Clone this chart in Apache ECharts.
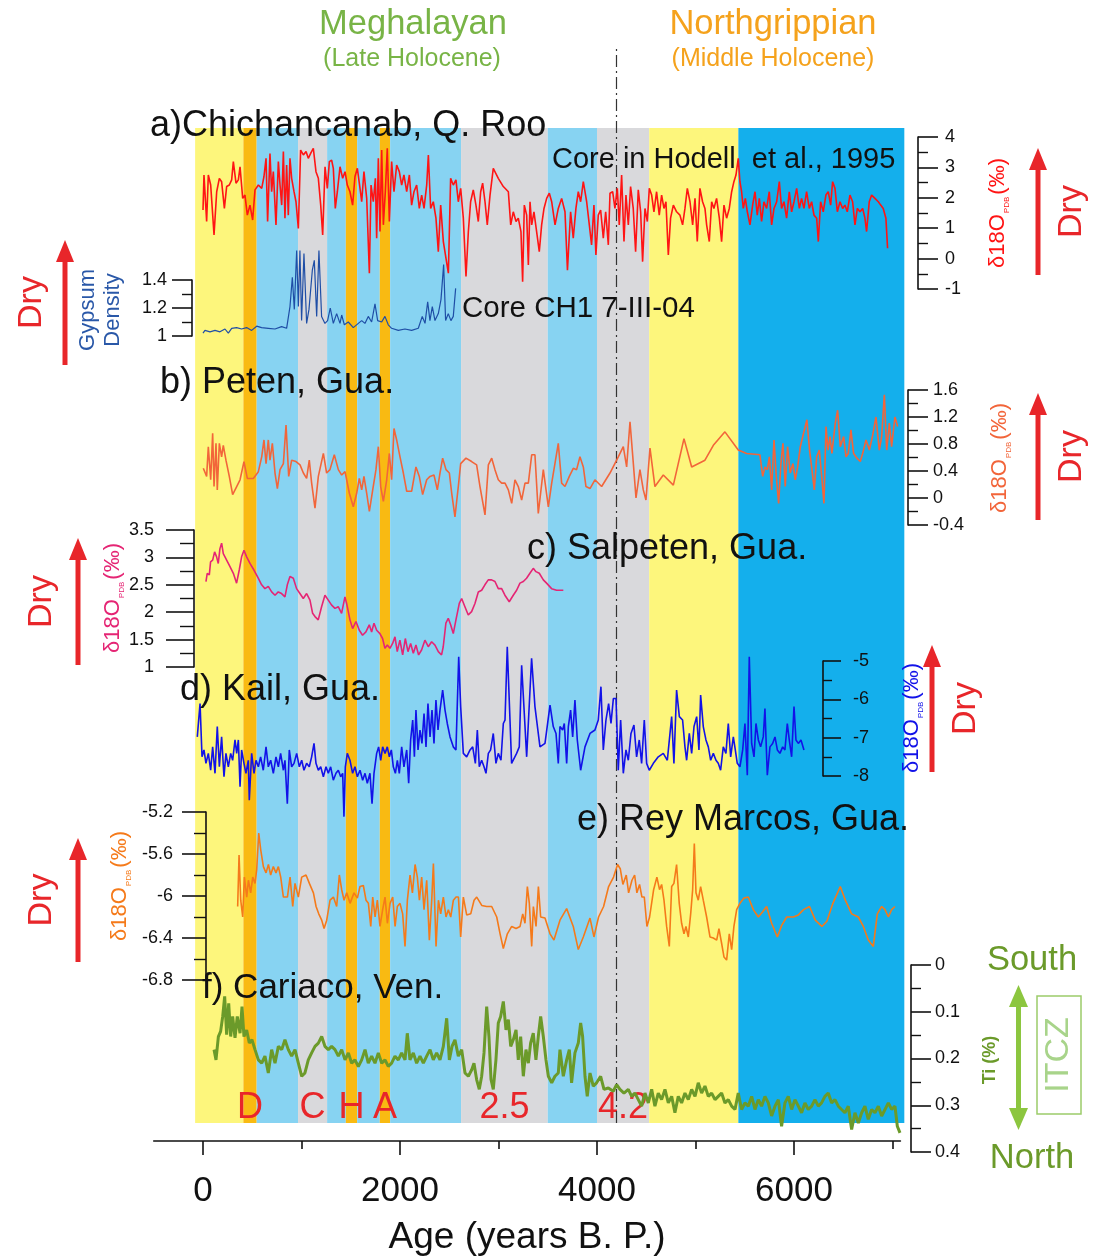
<!DOCTYPE html>
<html>
<head>
<meta charset="utf-8">
<script src="https://cdn.jsdelivr.net/npm/echarts@6/dist/echarts.min.js"></script>
<style>
  html, body { margin: 0; padding: 0; background: #fff; }
  #chart { width: 1099px; height: 1259px; }
</style>
</head>
<body>
<div id="chart"></div>
<script>
// climate bands: [start age, end age, kind, label]
const bands = [
  [-80, 410, 'yellow', ''], [410, 545, 'orange', 'D'], [545, 965, 'blue', ''],
  [965, 1260, 'grey', 'C'], [1260, 1450, 'blue', ''], [1450, 1565, 'orange', 'H'],
  [1565, 1795, 'blue', ''], [1795, 1900, 'orange', 'A'], [1900, 2620, 'blue', ''],
  [2620, 3500, 'grey', '2.5'], [3500, 4000, 'blue', ''], [4000, 4530, 'grey', '4.2'],
  [4530, 5435, 'yellow', ''], [5435, 7120, 'deepblue', '']
];
const boundaryAge = 4200;
const ageMajorTicks = [0, 2000, 4000, 6000];
const ageMinorTicks = [1000, 3000, 5000, 7000];

// a) Chichancanab d18O [age, permil]
const chichancanabD18O = [[0,1.60],[10,2.75],[37,1.22],[54,2.75],[78,2.42],[112,0.78],[139,2.20],[166,2.64],[189,2.53],[217,1.65],[240,2.37],[267,2.42],[291,2.59],[308,3.19],[335,2.48],[359,2.59],[376,3.02],[403,1.98],[426,2.09],[450,1.43],[477,1.76],[504,1.27],[528,2.26],[562,2.42],[596,2.31],[619,2.70],[640,3.30],[656,1.22],[680,3.46],[697,2.20],[714,2.86],[741,1.11],[765,3.19],[782,2.42],[799,1.76],[816,3.52],[832,1.33],[849,3.08],[866,1.43],[883,3.30],[900,2.64],[924,2.20],[944,1.87],[968,0.99],[991,3.57],[1019,3.41],[1046,3.52],[1069,3.30],[1093,3.46],[1120,3.63],[1147,2.86],[1171,2.64],[1195,1.76],[1215,0.78],[1239,3.02],[1262,2.31],[1283,3.19],[1306,3.24],[1323,2.97],[1343,1.65],[1364,2.20],[1391,3.02],[1418,2.64],[1442,2.86],[1465,2.42],[1492,2.20],[1519,1.76],[1543,2.70],[1567,2.97],[1594,2.31],[1611,1.87],[1634,2.86],[1662,1.98],[1689,-0.48],[1706,2.42],[1729,1.87],[1750,2.64],[1763,0.67],[1780,3.30],[1797,0.89],[1814,3.57],[1831,1.11],[1851,2.20],[1871,3.63],[1892,1.22],[1915,3.19],[1939,2.20],[1966,3.08],[1993,2.86],[2017,2.42],[2040,2.75],[2068,2.20],[2095,2.75],[2118,1.76],[2142,2.20],[2169,2.42],[2196,1.65],[2220,2.09],[2244,1.65],[2271,2.42],[2288,3.41],[2311,1.65],[2338,1.87],[2365,1.33],[2389,0.23],[2413,1.76],[2440,0.56],[2467,0.01],[2491,-0.48],[2514,2.64],[2541,2.42],[2568,2.59],[2592,1.87],[2616,2.31],[2643,1.33],[2670,-0.59],[2694,0.89],[2717,1.87],[2744,2.26],[2771,1.76],[2795,1.22],[2819,2.20],[2839,2.48],[2863,1.87],[2886,1.11],[2914,2.09],[2947,2.97],[2998,2.64],[3049,2.37],[3100,2.20],[3124,1.11],[3150,1.54],[3178,1.22],[3201,1.33],[3228,0.89],[3245,-0.76],[3262,1.76],[3286,1.43],[3303,-0.21],[3320,1.87],[3337,1.11],[3360,1.54],[3387,0.89],[3414,0.23],[3438,1.11],[3462,1.65],[3489,1.98],[3516,2.15],[3540,1.87],[3574,1.11],[3607,1.65],[3641,1.98],[3675,1.54],[3700,-0.38],[3732,1.54],[3759,0.67],[3786,1.65],[3810,2.20],[3834,1.87],[3861,2.53],[3878,2.20],[3895,1.87],[3922,1.11],[3945,0.45],[3969,1.76],[3989,0.12],[4013,1.43],[4037,1.60],[4064,0.67],[4088,1.54],[4115,0.45],[4132,2.15],[4159,2.20],[4182,1.65],[4206,2.31],[4226,1.11],[4250,2.75],[4274,0.56],[4294,2.09],[4318,1.11],[4341,2.37],[4368,1.65],[4392,0.23],[4419,2.26],[4443,1.54],[4463,-0.10],[4487,1.65],[4511,1.22],[4531,2.31],[4555,2.09],[4578,1.54],[4605,2.20],[4632,1.43],[4656,2.09],[4680,1.65],[4700,1.87],[4724,0.12],[4747,1.33],[4775,1.76],[4808,1.54],[4842,1.43],[4869,1.11],[4893,1.65],[4917,2.31],[4944,1.87],[4971,1.11],[4995,1.98],[5018,0.56],[5045,2.31],[5072,1.87],[5096,1.65],[5113,1.11],[5140,0.56],[5164,1.87],[5187,1.65],[5214,1.98],[5242,1.33],[5265,0.56],[5289,1.76],[5316,1.33],[5343,1.65],[5367,2.20],[5390,2.53],[5411,2.75],[5434,3.30],[5451,2.53],[5468,2.20],[5485,1.65],[5506,1.98],[5526,1.54],[5553,1.11],[5580,1.76],[5604,2.20],[5627,1.43],[5648,1.98],[5671,1.22],[5695,1.87],[5722,1.65],[5749,2.20],[5773,1.11],[5797,1.65],[5824,1.87],[5851,2.53],[5874,1.65],[5898,1.87],[5925,1.33],[5952,2.20],[5976,1.54],[6000,1.87],[6027,2.31],[6054,1.65],[6077,1.98],[6101,1.65],[6128,2.20],[6155,1.65],[6179,1.87],[6203,1.43],[6230,1.33],[6247,0.56],[6270,1.87],[6297,1.54],[6324,2.09],[6348,2.20],[6372,1.76],[6392,2.53],[6416,2.31],[6440,1.54],[6467,1.87],[6494,1.65],[6517,1.76],[6541,1.54],[6568,2.09],[6595,1.87],[6619,1.11],[6643,1.65],[6670,1.54],[6697,1.65],[6720,1.33],[6737,0.89],[6764,1.87],[6788,2.09],[6822,1.98],[6856,1.87],[6880,1.76],[6906,1.65],[6933,1.33],[6950,0.34]];

// core CH1 7-III-04 gypsum density
const chichancanabGypsum = [[0,1.02],[20,1.04],[71,1.03],[122,1.04],[172,1.03],[223,1.05],[257,1.02],[291,1.055],[341,1.06],[392,1.05],[443,1.06],[494,1.04],[545,1.07],[595,1.06],[663,1.055],[731,1.05],[798,1.067],[849,1.055],[883,1.21],[907,1.42],[927,1.19],[951,1.61],[968,1.21],[984,1.61],[1001,1.11],[1025,1.59],[1052,1.09],[1076,1.19],[1110,1.47],[1130,1.54],[1154,1.14],[1177,1.61],[1204,1.14],[1238,1.09],[1265,1.11],[1292,1.20],[1323,1.09],[1357,1.16],[1391,1.09],[1408,1.15],[1435,1.08],[1475,1.10],[1526,1.06],[1577,1.09],[1611,1.11],[1644,1.09],[1678,1.14],[1712,1.10],[1746,1.23],[1773,1.11],[1814,1.10],[1847,1.14],[1881,1.08],[1915,1.055],[1983,1.04],[2050,1.05],[2118,1.04],[2186,1.055],[2226,1.14],[2254,1.09],[2281,1.245],[2304,1.11],[2328,1.21],[2355,1.11],[2389,1.16],[2416,1.26],[2443,1.51],[2463,1.11],[2490,1.16],[2517,1.11],[2541,1.14],[2565,1.34]];

// b) Peten d18O
const petenD18O = [[3,0.44],[37,0.32],[54,0.76],[78,0.27],[98,0.96],[112,0.17],[132,0.81],[145,0.12],[166,0.81],[189,0.61],[206,0.78],[233,0.56],[267,0.32],[301,0.05],[342,0.17],[376,0.27],[416,0.54],[450,0.29],[511,0.29],[562,0.39],[596,0.61],[619,0.86],[640,0.51],[663,0.86],[680,0.56],[704,0.81],[731,0.37],[755,0.14],[782,0.42],[816,0.51],[843,1.08],[870,0.32],[900,0.56],[944,0.54],[985,0.49],[1019,0.37],[1052,0.29],[1079,0.56],[1103,0.22],[1137,-0.15],[1171,0.32],[1222,0.66],[1255,0.37],[1289,0.42],[1333,0.64],[1374,0.42],[1408,0.34],[1442,0.39],[1486,0.07],[1526,-0.13],[1560,0.07],[1587,0.29],[1611,0.12],[1634,0.32],[1662,0.07],[1689,-0.20],[1723,0.12],[1756,0.42],[1780,0.76],[1804,0.17],[1831,-0.05],[1865,0.27],[1892,0.66],[1915,0.27],[1939,1.03],[1966,0.86],[2000,0.61],[2034,0.37],[2068,0.10],[2118,0.10],[2162,0.46],[2196,0.32],[2230,0.05],[2271,0.27],[2305,0.32],[2345,0.34],[2379,0.12],[2406,0.37],[2433,0.59],[2467,0.42],[2501,0.37],[2525,0.07],[2558,-0.28],[2592,0.17],[2616,0.51],[2670,0.59],[2727,0.54],[2778,0.49],[2812,0.17],[2863,-0.25],[2897,0.49],[2931,0.59],[2964,0.42],[2998,0.27],[3032,0.22],[3066,0.22],[3100,0.12],[3134,-0.08],[3167,0.27],[3201,0.17],[3235,-0.03],[3269,0.22],[3303,0.22],[3337,0.64],[3370,0.64],[3404,-0.23],[3455,0.42],[3506,-0.13],[3540,0.22],[3573,0.51],[3607,0.81],[3641,0.22],[3675,0.17],[3719,0.32],[3759,0.44],[3793,0.42],[3827,0.61],[3861,0.46],[3888,0.17],[3929,0.14],[3979,0.27],[4047,0.17],[4132,0.37],[4216,0.61],[4267,0.76],[4301,0.46],[4335,1.13],[4369,0.51],[4396,0.00],[4436,0.42],[4470,0.12],[4497,-0.03],[4538,0.74],[4588,0.17],[4673,0.34],[4775,0.19],[4883,0.88],[4961,0.46],[5096,0.56],[5181,0.78],[5299,0.98],[5434,0.71],[5519,0.66],[5654,0.64],[5682,0.32],[5706,0.46],[5729,0.42],[5750,0.61],[5773,0.12],[5797,0.86],[5820,0.32],[5844,-0.08],[5867,0.51],[5888,0.81],[5911,0.17],[5935,0.76],[5962,0.37],[5989,0.51],[6013,0.27],[6037,0.46],[6064,0.76],[6097,0.96],[6131,1.16],[6158,0.71],[6182,0.42],[6206,0.12],[6230,0.61],[6257,0.71],[6281,0.32],[6304,-0.08],[6325,1.06],[6345,0.71],[6365,0.91],[6385,0.66],[6419,1.11],[6443,1.30],[6470,0.76],[6504,0.91],[6528,0.61],[6551,0.66],[6578,1.01],[6605,0.66],[6639,0.59],[6673,0.54],[6697,0.66],[6731,0.86],[6765,0.71],[6799,0.93],[6832,1.20],[6866,0.71],[6890,0.91],[6917,1.53],[6941,0.71],[6968,1.11],[6991,0.76],[7025,1.20],[7052,1.06]];

// c) Salpeten d18O
const salpetenD18O = [[30,2.56],[43,2.71],[64,2.68],[77,2.92],[98,2.95],[118,3.10],[138,3.01],[155,2.89],[172,3.16],[189,3.26],[206,3.07],[240,2.95],[274,2.83],[308,2.71],[341,2.53],[368,2.77],[392,3.01],[416,3.13],[443,3.01],[477,2.89],[517,2.77],[561,2.62],[595,2.50],[629,2.43],[663,2.47],[697,2.37],[731,2.31],[764,2.37],[798,2.34],[832,2.28],[856,2.50],[883,2.65],[917,2.62],[950,2.43],[984,2.34],[1018,2.25],[1052,2.34],[1086,2.22],[1113,1.98],[1137,1.92],[1170,1.86],[1204,2.10],[1238,2.31],[1272,2.22],[1306,2.13],[1340,2.07],[1373,2.10],[1407,1.98],[1441,2.28],[1458,2.16],[1492,1.86],[1519,1.70],[1553,1.83],[1587,1.67],[1620,1.58],[1654,1.64],[1688,1.77],[1712,1.64],[1736,1.80],[1763,1.67],[1796,1.61],[1823,1.52],[1847,1.34],[1871,1.40],[1898,1.34],[1925,1.43],[1949,1.55],[1972,1.28],[1999,1.49],[2027,1.22],[2054,1.52],[2081,1.28],[2108,1.43],[2135,1.25],[2162,1.40],[2189,1.22],[2219,1.31],[2253,1.49],[2287,1.37],[2321,1.46],[2355,1.40],[2389,1.28],[2422,1.22],[2439,1.37],[2466,1.80],[2490,1.89],[2514,1.77],[2541,1.61],[2568,1.86],[2602,2.16],[2626,2.25],[2659,2.10],[2693,1.95],[2727,2.01],[2761,2.16],[2795,2.37],[2829,2.40],[2862,2.50],[2896,2.59],[2930,2.59],[2964,2.56],[2998,2.43],[3032,2.43],[3065,2.31],[3109,2.19],[3150,2.31],[3184,2.40],[3218,2.53],[3252,2.56],[3285,2.62],[3319,2.71],[3353,2.80],[3380,2.74],[3414,2.71],[3455,2.59],[3488,2.53],[3539,2.43],[3590,2.40],[3658,2.40]];

// d) Kail d18O
const kailD18O = [[-58,-6.98],[-30,-6.11],[-10,-7.50],[10,-7.32],[30,-7.67],[54,-7.41],[78,-7.85],[98,-7.24],[122,-7.93],[145,-6.71],[166,-7.76],[189,-6.98],[213,-8.02],[233,-7.41],[257,-7.76],[281,-7.41],[301,-7.59],[325,-7.06],[342,-7.41],[359,-7.06],[376,-8.28],[392,-7.32],[416,-7.67],[436,-7.93],[460,-7.59],[470,-8.63],[494,-7.41],[518,-7.93],[538,-7.59],[562,-7.76],[585,-7.50],[612,-7.85],[640,-7.24],[663,-7.76],[687,-7.59],[714,-7.93],[741,-7.50],[765,-7.76],[788,-7.41],[816,-7.85],[832,-7.59],[856,-8.72],[876,-7.32],[900,-7.76],[924,-7.67],[951,-7.41],[978,-7.76],[1002,-7.59],[1025,-7.85],[1052,-7.67],[1079,-7.76],[1103,-7.50],[1127,-7.15],[1147,-7.67],[1171,-7.85],[1195,-7.76],[1222,-8.02],[1249,-7.76],[1272,-7.93],[1296,-7.76],[1323,-8.11],[1350,-7.93],[1374,-7.85],[1398,-8.02],[1418,-7.93],[1431,-9.06],[1445,-7.76],[1465,-7.41],[1492,-7.59],[1519,-7.93],[1543,-7.76],[1567,-8.02],[1594,-7.85],[1621,-8.11],[1645,-7.93],[1668,-8.19],[1695,-7.93],[1716,-8.72],[1736,-7.93],[1763,-7.41],[1783,-7.24],[1804,-7.59],[1824,-7.24],[1848,-7.41],[1871,-7.24],[1892,-7.50],[1912,-7.32],[1932,-7.76],[1953,-7.93],[1973,-7.59],[1993,-7.93],[2017,-7.24],[2040,-7.76],[2068,-7.32],[2088,-8.19],[2108,-7.06],[2129,-6.54],[2146,-7.50],[2162,-6.28],[2183,-7.32],[2203,-6.80],[2223,-7.15],[2244,-6.37],[2264,-7.24],[2284,-6.11],[2305,-6.98],[2325,-6.28],[2345,-7.15],[2365,-6.02],[2386,-6.80],[2406,-6.28],[2433,-5.76],[2457,-6.28],[2480,-6.63],[2508,-6.98],[2541,-7.24],[2568,-7.32],[2596,-4.89],[2616,-6.19],[2643,-7.41],[2677,-7.50],[2711,-7.32],[2738,-7.24],[2765,-7.67],[2785,-6.80],[2805,-7.76],[2829,-7.59],[2853,-7.76],[2873,-7.93],[2897,-7.41],[2920,-7.32],[2947,-6.89],[2974,-7.67],[2998,-7.41],[3025,-7.59],[3049,-6.63],[3066,-6.54],[3089,-4.63],[3133,-7.67],[3184,-7.41],[3211,-7.24],[3235,-5.11],[3286,-7.50],[3336,-4.93],[3370,-6.19],[3421,-7.24],[3472,-7.15],[3523,-6.15],[3556,-6.71],[3584,-6.89],[3607,-7.67],[3624,-6.71],[3651,-6.80],[3668,-6.63],[3692,-7.67],[3709,-6.71],[3732,-6.28],[3753,-6.98],[3776,-6.02],[3800,-7.06],[3834,-7.85],[3878,-7.24],[3929,-6.89],[3979,-6.80],[4013,-6.54],[4040,-5.67],[4064,-7.32],[4091,-6.54],[4118,-6.11],[4142,-6.63],[4166,-5.98],[4193,-5.98],[4216,-7.85],[4240,-6.54],[4267,-7.93],[4294,-7.32],[4318,-7.59],[4345,-6.89],[4375,-6.67],[4402,-7.50],[4429,-7.06],[4453,-7.67],[4480,-6.54],[4504,-7.67],[4531,-7.85],[4572,-7.67],[4622,-7.50],[4673,-7.41],[4714,-7.59],[4758,-6.45],[4781,-7.67],[4808,-5.76],[4836,-6.45],[4869,-6.54],[4893,-7.24],[4910,-7.59],[4937,-6.89],[4961,-7.41],[4985,-6.71],[5012,-6.45],[5035,-7.32],[5052,-5.89],[5079,-6.71],[5106,-7.06],[5130,-7.24],[5154,-7.59],[5181,-7.41],[5208,-7.59],[5231,-7.67],[5255,-7.85],[5282,-7.24],[5309,-7.41],[5333,-6.63],[5357,-7.50],[5384,-6.98],[5404,-7.32],[5424,-7.67],[5451,-7.76],[5479,-7.32],[5502,-6.63],[5526,-7.98],[5546,-4.89],[5570,-7.15],[5594,-7.50],[5614,-6.63],[5638,-7.06],[5661,-7.24],[5688,-6.98],[5705,-6.24],[5729,-7.98],[5756,-7.24],[5783,-7.15],[5807,-6.98],[5831,-7.32],[5857,-7.41],[5885,-7.24],[5908,-7.32],[5932,-6.63],[5952,-7.06],[5976,-7.50],[6000,-6.19],[6020,-7.06],[6044,-7.15],[6071,-7.06],[6101,-7.32]];

// e) Rey Marcos d18O
const reyMarcosD18O = [[352,-6.10],[366,-5.61],[383,-6.04],[403,-6.20],[420,-5.82],[444,-6.01],[461,-5.85],[484,-5.97],[505,-5.82],[528,-5.88],[545,-5.75],[566,-5.40],[586,-5.56],[613,-5.72],[640,-5.78],[664,-5.70],[687,-5.80],[714,-5.72],[741,-5.78],[765,-5.72],[789,-5.82],[816,-6.01],[857,-6.01],[884,-5.82],[911,-6.10],[934,-5.88],[968,-6.01],[1002,-5.82],[1046,-5.80],[1080,-5.88],[1121,-5.97],[1148,-6.10],[1175,-6.17],[1205,-6.23],[1229,-6.31],[1256,-6.23],[1290,-6.04],[1324,-6.01],[1357,-6.10],[1384,-5.80],[1408,-5.94],[1432,-6.04],[1459,-5.97],[1493,-6.07],[1533,-5.97],[1567,-6.02],[1594,-5.91],[1628,-5.90],[1655,-6.04],[1679,-6.07],[1703,-6.29],[1723,-6.01],[1747,-6.20],[1770,-6.04],[1797,-6.29],[1824,-6.13],[1848,-6.01],[1872,-6.26],[1899,-6.07],[1926,-6.01],[1950,-6.29],[1973,-6.10],[2000,-6.07],[2027,-6.17],[2051,-6.48],[2075,-6.04],[2102,-5.80],[2126,-5.97],[2153,-5.70],[2176,-5.82],[2197,-6.04],[2220,-5.82],[2244,-6.13],[2271,-5.85],[2298,-6.42],[2322,-6.04],[2339,-5.69],[2366,-6.48],[2390,-6.04],[2413,-6.17],[2440,-6.01],[2467,-6.20],[2491,-6.13],[2515,-6.20],[2542,-6.04],[2569,-6.01],[2593,-6.01],[2616,-6.39],[2643,-6.01],[2677,-6.18],[2718,-6.17],[2752,-6.04],[2779,-6.01],[2830,-6.09],[2880,-6.10],[2931,-6.10],[2982,-6.20],[3016,-6.36],[3049,-6.50],[3090,-6.36],[3134,-6.29],[3178,-6.31],[3219,-6.29],[3246,-6.17],[3269,-6.26],[3293,-5.91],[3313,-6.07],[3337,-6.48],[3354,-6.10],[3381,-6.29],[3405,-5.91],[3428,-6.20],[3472,-6.21],[3523,-6.36],[3563,-6.42],[3624,-6.23],[3692,-6.12],[3759,-6.29],[3810,-6.51],[3861,-6.39],[3929,-6.21],[3969,-6.39],[4016,-6.20],[4067,-6.10],[4118,-5.91],[4168,-5.82],[4209,-5.70],[4236,-5.74],[4263,-5.89],[4297,-5.80],[4321,-5.97],[4355,-5.85],[4382,-5.80],[4405,-5.97],[4432,-5.89],[4456,-6.01],[4480,-6.01],[4507,-6.29],[4534,-6.20],[4575,-5.94],[4608,-5.82],[4635,-5.94],[4656,-5.89],[4680,-6.04],[4707,-6.29],[4734,-6.48],[4758,-5.91],[4781,-5.88],[4808,-5.70],[4835,-6.07],[4859,-6.26],[4883,-6.36],[4903,-6.29],[4927,-6.39],[4951,-6.17],[4971,-5.94],[4988,-5.50],[5005,-5.97],[5028,-6.04],[5052,-5.91],[5079,-6.04],[5113,-6.20],[5147,-6.39],[5181,-6.40],[5215,-6.42],[5238,-6.31],[5265,-6.45],[5289,-6.58],[5316,-6.61],[5343,-6.36],[5367,-6.51],[5390,-6.29],[5418,-6.13],[5451,-6.07],[5492,-6.02],[5536,-6.01],[5587,-6.13],[5638,-6.20],[5682,-6.15],[5722,-6.10],[5773,-6.26],[5831,-6.39],[5875,-6.28],[5926,-6.20],[5993,-6.20],[6044,-6.18],[6097,-6.13],[6158,-6.10],[6216,-6.23],[6283,-6.29],[6334,-6.24],[6395,-6.07],[6470,-5.91],[6521,-6.04],[6585,-6.17],[6653,-6.20],[6704,-6.29],[6754,-6.42],[6805,-6.48],[6846,-6.17],[6890,-6.10],[6924,-6.13],[6958,-6.20],[6991,-6.13],[7025,-6.10]];

// f) Cariaco Ti (%)
const cariacoTi = [[112,0.181],[132,0.203],[156,0.153],[179,0.142],[200,0.110],[220,0.067],[240,0.149],[261,0.082],[281,0.153],[301,0.110],[325,0.156],[348,0.110],[376,0.146],[396,0.089],[416,0.153],[443,0.139],[470,0.167],[497,0.160],[528,0.181],[562,0.203],[596,0.210],[629,0.195],[663,0.231],[697,0.181],[731,0.210],[765,0.174],[799,0.181],[832,0.160],[866,0.181],[900,0.195],[934,0.181],[968,0.210],[1002,0.238],[1035,0.231],[1069,0.203],[1103,0.188],[1137,0.174],[1171,0.167],[1205,0.153],[1238,0.174],[1272,0.181],[1306,0.174],[1340,0.181],[1374,0.195],[1408,0.181],[1442,0.203],[1476,0.188],[1509,0.210],[1543,0.203],[1577,0.217],[1611,0.203],[1645,0.181],[1678,0.210],[1712,0.195],[1746,0.210],[1780,0.188],[1814,0.210],[1848,0.203],[1881,0.217],[1915,0.210],[1949,0.195],[1983,0.203],[2017,0.188],[2051,0.203],[2074,0.146],[2101,0.203],[2135,0.188],[2169,0.210],[2203,0.195],[2237,0.210],[2271,0.195],[2305,0.181],[2338,0.203],[2372,0.188],[2406,0.203],[2440,0.174],[2474,0.114],[2501,0.203],[2528,0.174],[2558,0.160],[2592,0.195],[2626,0.181],[2660,0.231],[2694,0.238],[2728,0.224],[2751,0.210],[2778,0.245],[2805,0.266],[2829,0.238],[2853,0.188],[2880,0.089],[2903,0.153],[2924,0.245],[2947,0.266],[2974,0.203],[2998,0.124],[3022,0.110],[3049,0.078],[3076,0.139],[3100,0.117],[3124,0.174],[3150,0.160],[3178,0.139],[3201,0.203],[3225,0.153],[3252,0.238],[3279,0.181],[3303,0.210],[3326,0.167],[3353,0.146],[3380,0.203],[3404,0.153],[3428,0.110],[3455,0.153],[3482,0.203],[3506,0.238],[3540,0.252],[3573,0.238],[3607,0.231],[3624,0.181],[3658,0.238],[3692,0.203],[3719,0.181],[3742,0.252],[3776,0.188],[3810,0.167],[3834,0.124],[3854,0.153],[3878,0.238],[3901,0.281],[3929,0.231],[3962,0.259],[3996,0.252],[4037,0.238],[4071,0.266],[4115,0.263],[4165,0.270],[4199,0.256],[4233,0.266],[4274,0.274],[4318,0.266],[4352,0.281],[4385,0.274],[4419,0.288],[4453,0.302],[4487,0.274],[4521,0.295],[4555,0.266],[4588,0.302],[4622,0.274],[4656,0.288],[4690,0.266],[4724,0.295],[4758,0.281],[4791,0.316],[4825,0.281],[4859,0.295],[4893,0.274],[4927,0.288],[4961,0.266],[4995,0.281],[5028,0.252],[5062,0.274],[5096,0.259],[5130,0.281],[5164,0.274],[5198,0.288],[5231,0.281],[5265,0.274],[5299,0.295],[5333,0.288],[5367,0.302],[5401,0.309],[5434,0.274],[5468,0.309],[5502,0.295],[5536,0.302],[5570,0.281],[5604,0.309],[5638,0.288],[5671,0.302],[5705,0.281],[5739,0.295],[5773,0.323],[5807,0.302],[5841,0.288],[5874,0.345],[5908,0.295],[5942,0.281],[5976,0.309],[6010,0.288],[6044,0.302],[6077,0.316],[6111,0.295],[6145,0.309],[6179,0.302],[6213,0.288],[6247,0.302],[6280,0.295],[6314,0.281],[6348,0.274],[6382,0.295],[6416,0.288],[6450,0.302],[6483,0.309],[6517,0.316],[6551,0.302],[6585,0.352],[6619,0.316],[6653,0.338],[6687,0.316],[6720,0.302],[6754,0.330],[6788,0.309],[6822,0.316],[6856,0.302],[6890,0.323],[6924,0.309],[6958,0.295],[6991,0.309],[7025,0.302],[7049,0.345],[7076,0.359]];

// ---------------- layout ----------------
const FONT = '"Liberation Sans", Arial, Helvetica, sans-serif';
const RED = '#e8262a';
const bandColor = { yellow: '#fdf67c', orange: '#f9ba12', blue: '#87d3f2', grey: '#d9d9dc', deepblue: '#14afec' };

// every age axis uses the same scale: px = 203 + age * 0.0985
const AGE0_PX = 203, PX_PER_YR = 0.0985;
const PLOT_L = 195.12, PLOT_R = 904.32;
const ageAt = px => (px - AGE0_PX) / PX_PER_YR;

// each panel's grid runs from its value axis to the far edge of the plot
const panels = [
  { data: chichancanabD18O, color: '#ff1414', width: 1.6, top: 137, height: 152, min: -1, max: 4, interval: 1, pos: 'right', axisX: 918, tick: 20, margin: 27 },
  { data: chichancanabGypsum, color: '#1f4ea6', width: 1.2, top: 280, height: 56, min: 1, max: 1.4, interval: 0.2, pos: 'left', axisX: 192, tick: 20, margin: 25 },
  { data: petenD18O, color: '#f2653a', width: 1.6, top: 390, height: 135, min: -0.4, max: 1.6, interval: 0.4, pos: 'right', axisX: 908, tick: 20, margin: 25 },
  { data: salpetenD18O, color: '#e52574', width: 1.6, top: 530, height: 137, min: 1, max: 3.5, interval: 0.5, pos: 'left', axisX: 194, tick: 28, margin: 40 },
  { data: kailD18O, color: '#1212e8', width: 1.6, top: 661, height: 115, min: -8, max: -5, interval: 1, pos: 'right', axisX: 823, tick: 18, margin: 30 },
  { data: reyMarcosD18O, color: '#f57a1a', width: 1.6, top: 812, height: 168, min: -6.8, max: -5.2, interval: 0.4, pos: 'left', axisX: 206, tick: 24, margin: 33 },
  { data: cariacoTi, color: '#6b9a2a', width: 3, top: 965, height: 187, min: 0, max: 0.4, interval: 0.1, pos: 'right', axisX: 911, tick: 20, margin: 24, inverse: true }
];

const grids = [
  { left: PLOT_L, width: PLOT_R - PLOT_L, top: 128, height: 995 },   // bands
  { left: PLOT_L, width: PLOT_R - PLOT_L, top: 45, height: 1078 },   // 4.2 ka boundary
  { left: 153.75, width: 746.63, top: 1100, height: 41 },            // age axis
  { left: 153.75, width: 746.63, top: 1100, height: 41 }             // age minor ticks
];
const xAxes = [
  { gridIndex: 0, type: 'value', min: ageAt(PLOT_L), max: ageAt(PLOT_R), show: false },
  { gridIndex: 1, type: 'value', min: ageAt(PLOT_L), max: ageAt(PLOT_R), show: false },
  {
    gridIndex: 2, type: 'value', min: ageAt(153.75), max: ageAt(153.75 + 746.63), position: 'bottom',
    axisLine: { show: true, onZero: false, lineStyle: { color: '#111', width: 1.6 } },
    axisTick: { show: true, customValues: ageMajorTicks, length: 14, lineStyle: { color: '#111', width: 1.6 } },
    axisLabel: { customValues: ageMajorTicks, formatter: v => String(v), fontSize: 35, margin: 33, color: '#111', fontFamily: FONT },
    splitLine: { show: false },
    name: 'Age (years B. P.)', nameLocation: 'middle', nameGap: 78,
    nameTextStyle: { fontSize: 37, color: '#111', fontFamily: FONT }
  },
  {
    gridIndex: 3, type: 'value', min: ageAt(153.75), max: ageAt(153.75 + 746.63), position: 'bottom',
    axisLine: { show: false },
    axisTick: { show: true, customValues: ageMinorTicks, length: 8, lineStyle: { color: '#111', width: 1.6 } },
    axisLabel: { show: false }, splitLine: { show: false }
  }
];
const yAxes = [0, 1, 2, 3].map(i => ({ gridIndex: i, type: 'value', min: 0, max: 1, show: false }));
const series = [
  {
    type: 'line', xAxisIndex: 0, yAxisIndex: 0, data: [], z: 0, silent: true,
    markArea: {
      silent: true,
      data: bands.map(b => [
        {
          xAxis: b[0], name: b[3], itemStyle: { color: bandColor[b[2]], opacity: 1 },
          label: { show: !!b[3], position: 'insideBottom', distance: -3, formatter: b[3], color: RED, fontSize: 36, fontFamily: FONT }
        },
        { xAxis: b[1] }
      ])
    }
  },
  {
    type: 'line', xAxisIndex: 1, yAxisIndex: 1, data: [], z: 1, silent: true,
    markLine: {
      silent: true, symbol: ['none', 'none'], label: { show: false },
      lineStyle: { color: '#333', width: 1.2, type: [12, 4, 2, 4] },
      data: [{ xAxis: boundaryAge }]
    }
  }
];

panels.forEach((p, k) => {
  const gi = k + 4;
  const left = p.pos === 'right' ? PLOT_L : p.axisX;
  const right = p.pos === 'right' ? p.axisX : PLOT_R;
  grids.push({ left, width: right - left, top: p.top, height: p.height });
  xAxes.push({ gridIndex: gi, type: 'value', min: ageAt(left), max: ageAt(right), show: false });
  yAxes.push({
    gridIndex: gi, type: 'value', min: p.min, max: p.max, interval: p.interval,
    position: p.pos, inverse: !!p.inverse, z: 10,
    axisLine: { show: true, onZero: false, lineStyle: { color: '#111', width: 1.6 } },
    axisTick: { show: true, inside: false, length: p.tick, lineStyle: { color: '#111', width: 1.6 } },
    minorTick: { show: true, splitNumber: 2, length: p.tick / 2, lineStyle: { color: '#111', width: 1.4 } },
    axisLabel: { margin: p.margin, fontSize: 18, color: '#111', fontFamily: FONT },
    splitLine: { show: false }, minorSplitLine: { show: false }
  });
  series.push({
    type: 'line', xAxisIndex: gi, yAxisIndex: gi, data: p.data, symbol: 'none',
    clip: false, z: 5, silent: true,
    lineStyle: { color: p.color, width: p.width }
  });
});
grids.forEach(g => { g.containLabel = false; g.outerBoundsMode = 'none'; });

// ---------------- annotations ----------------
function label(x, y, text, size, color, align, rot) {
  return {
    type: 'text', x, y, rotation: rot || 0, z: 100, silent: true,
    style: {
      text, fill: color, fontSize: size, fontFamily: FONT,
      align: align || 'left', textAlign: align || 'left',
      verticalAlign: 'middle', textVerticalAlign: 'middle'
    }
  };
}
function d18oName(x, y, color) {
  return {
    type: 'text', x, y, rotation: Math.PI / 2, z: 100, silent: true,
    style: {
      text: '{n|δ18O}{s|PDB}{n|(‰)}', fill: color, fontFamily: FONT,
      align: 'center', textAlign: 'center', verticalAlign: 'middle', textVerticalAlign: 'middle',
      rich: {
        n: { fontSize: 22, fill: color, fontFamily: FONT, lineHeight: 26 },
        s: { fontSize: 8, fill: color, fontFamily: FONT, verticalAlign: 'bottom', lineHeight: 26, padding: [0, 2, 0, 1] }
      }
    }
  };
}
function dryArrow(x, yTip, yBottom, textX, color) {
  return [
    { type: 'rect', z: 100, silent: true, shape: { x: x - 2.5, y: yTip + 20, width: 5, height: yBottom - yTip - 20 }, style: { fill: color } },
    { type: 'polygon', z: 100, silent: true, shape: { points: [[x, yTip], [x - 9, yTip + 22], [x + 9, yTip + 22]] }, style: { fill: color } },
    label(textX, (yTip + yBottom) / 2, 'Dry', 34, color, 'center', Math.PI / 2)
  ];
}

const GREEN = '#6b9a2a';
const LIGHTGREEN = '#8cc63f';
const graphics = [
  label(413, 24, 'Meghalayan', 34.5, '#78b446', 'center'),
  label(412, 59, '(Late Holocene)', 25, '#78b446', 'center'),
  label(773, 24, 'Northgrippian', 34.5, '#f5a21c', 'center'),
  label(773, 59, '(Middle Holocene)', 25, '#f5a21c', 'center'),

  label(150, 126, 'a)Chichancanab, Q. Roo', 36, '#111'),
  label(552, 160, 'Core in Hodell  et al., 1995', 29, '#111'),
  label(462, 309, 'Core CH1 7-III-04', 29.5, '#111'),
  label(160, 383, 'b) Peten, Gua.', 36, '#111'),
  label(527, 549, 'c) Salpeten, Gua.', 36, '#111'),
  label(180, 690, 'd) Kail, Gua.', 36, '#111'),
  label(577, 820, 'e) Rey Marcos, Gua.', 36, '#111'),
  label(202, 988, 'f) Cariaco, Ven.', 35, '#111'),

  d18oName(998, 213, '#ff1414'),
  d18oName(1000, 458, '#f2653a'),
  d18oName(113, 598, '#e52574'),
  d18oName(912, 718, '#1212e8'),
  d18oName(120, 886, '#f57a1a'),
  {
    type: 'text', x: 100, y: 310, rotation: Math.PI / 2, z: 100, silent: true,
    style: {
      text: 'Gypsum\nDensity', fill: '#2a58a8', fontSize: 22, fontFamily: FONT, lineHeight: 25,
      align: 'center', textAlign: 'center', verticalAlign: 'middle', textVerticalAlign: 'middle'
    }
  },
  {
    type: 'text', x: 990, y: 1060, rotation: Math.PI / 2, z: 100, silent: true,
    style: {
      text: 'Ti (%)', fill: GREEN, fontSize: 18, fontWeight: 'bold', fontFamily: FONT,
      align: 'center', textAlign: 'center', verticalAlign: 'middle', textVerticalAlign: 'middle'
    }
  },
  label(1032, 960, 'South', 34.5, GREEN, 'center'),
  label(1032, 1158, 'North', 34.5, GREEN, 'center'),
  { type: 'rect', z: 100, silent: true, shape: { x: 1016, y: 1005, width: 5, height: 105 }, style: { fill: LIGHTGREEN } },
  { type: 'polygon', z: 100, silent: true, shape: { points: [[1018.5, 985], [1009, 1007], [1028, 1007]] }, style: { fill: LIGHTGREEN } },
  { type: 'polygon', z: 100, silent: true, shape: { points: [[1018.5, 1130], [1009, 1108], [1028, 1108]] }, style: { fill: LIGHTGREEN } },
  { type: 'rect', z: 100, silent: true, shape: { x: 1037, y: 996, width: 44, height: 118 }, style: { fill: 'none', stroke: '#9ccc6a', lineWidth: 1.5 } },
  label(1059, 1055, 'ITCZ', 34, '#a8d48a', 'center', Math.PI / 2)
]
  .concat(dryArrow(1038, 148, 275, 1072, RED))
  .concat(dryArrow(65, 240, 365, 32, RED))
  .concat(dryArrow(1038, 393, 520, 1072, RED))
  .concat(dryArrow(78, 538, 665, 42, RED))
  .concat(dryArrow(932, 645, 772, 966, RED))
  .concat(dryArrow(78, 838, 962, 42, RED));

const chart = echarts.init(document.getElementById('chart'), null, { renderer: 'canvas' });
chart.setOption({
  animation: false,
  backgroundColor: '#fff',
  textStyle: { fontFamily: FONT },
  grid: grids,
  xAxis: xAxes,
  yAxis: yAxes,
  series,
  graphic: { elements: graphics }
});
</script>
</body>
</html>
